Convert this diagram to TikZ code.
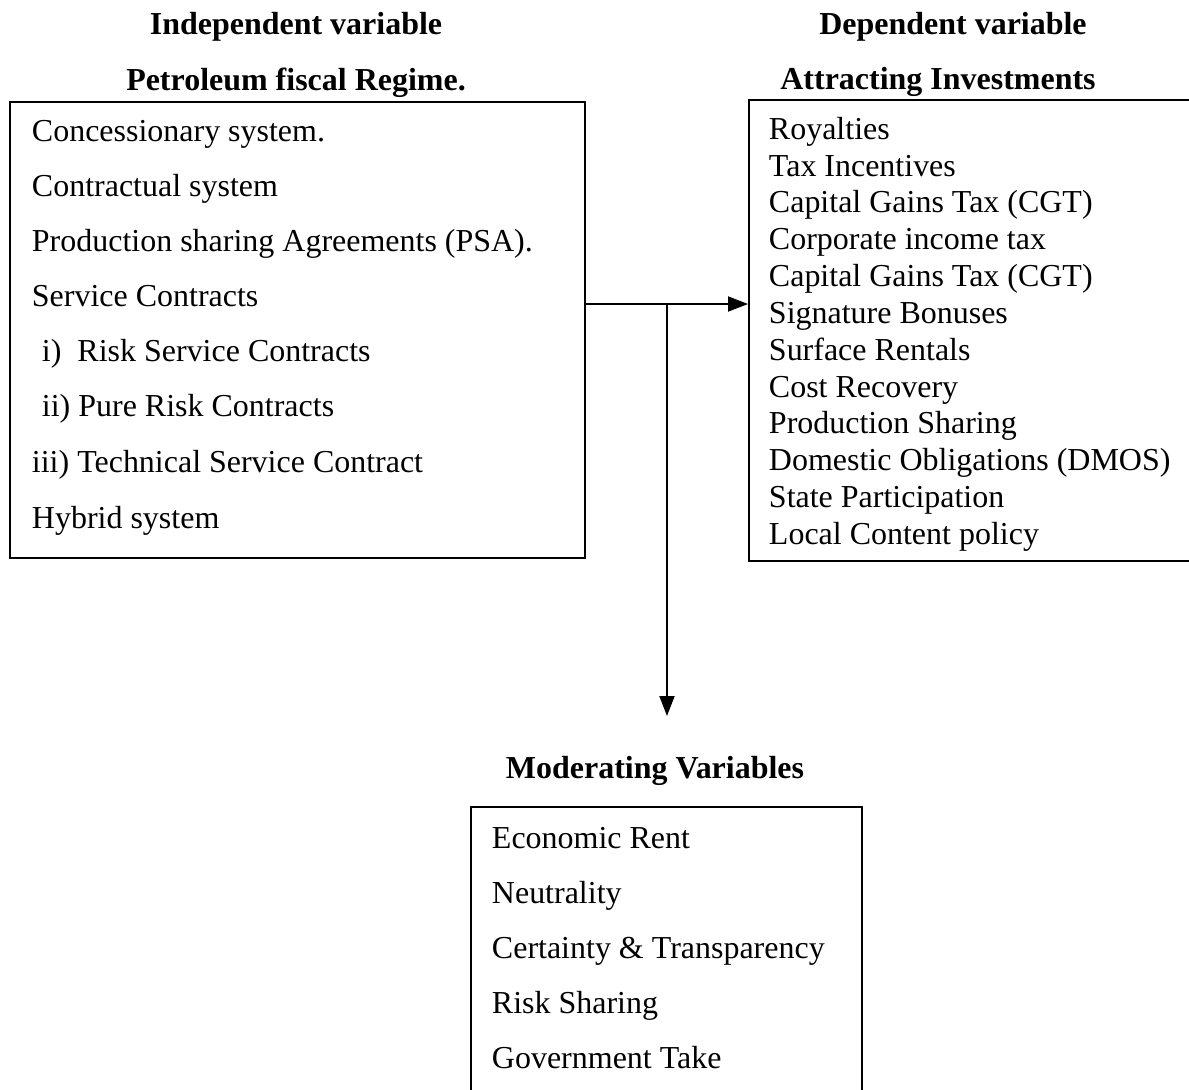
\documentclass[tikz,border=0pt]{standalone}
\usepackage{fontspec}
\setmainfont{Liberation Serif}
\usetikzlibrary{arrows.meta}

\begin{document}
\begin{tikzpicture}[
  x=0.02cm,
  y=-0.02cm,
  >={Triangle[length=4mm,width=3mm]},
  line width=1.1pt,
  every node/.style={font=\fontsize{18.2}{21}\selectfont,inner sep=0pt},
  title node/.style={font=\fontsize{18.2}{21}\selectfont\bfseries,anchor=base},
  item node/.style={anchor=base west},
  frame box/.style={rectangle,draw,anchor=north west},
]
\useasboundingbox (0,0) rectangle (1189,1089);
\clip (0,0) rectangle (1189,1089);
\node[title node] (indep) at (296,34) {Independent variable};
\node[title node] (regtitle) at (296,90) {Petroleum fiscal Regime.};
\node[title node] (dep) at (953,34) {Dependent variable};
\node[title node] (invtitle) at (938,89) {Attracting Investments};
\node[title node] (modtitle) at (655,778) {Moderating Variables};
\node[frame box,minimum width=11.5cm,minimum height=9.12cm] (regime) at (9,101) {};
\node[frame box,minimum width=11.4cm,minimum height=9.22cm] (invest) at (748,99) {};
\node[frame box,minimum width=7.82cm,minimum height=8cm] (moder) at (470,806) {};
\node[item node] (fr1) at (31,141) {Concessionary system.};
\node[item node] (fr2) at (31,196) {Contractual system};
\node[item node] (fr3) at (31,251) {Production sharing Agreements (PSA).};
\node[item node] (fr4) at (31,306) {Service Contracts};
\node[item node] (fr5) at (41,361) {i)\ \ Risk Service Contracts};
\node[item node] (fr6) at (41,416) {ii) Pure Risk Contracts};
\node[item node] (fr7) at (31,472) {iii) Technical Service Contract};
\node[item node] (fr8) at (31,528) {Hybrid system};
\node[item node] (ai1) at (768,139) {Royalties};
\node[item node] (ai2) at (768,176) {Tax Incentives};
\node[item node] (ai3) at (768,212) {Capital Gains Tax (CGT)};
\node[item node] (ai4) at (768,249) {Corporate income tax};
\node[item node] (ai5) at (768,286) {Capital Gains Tax (CGT)};
\node[item node] (ai6) at (768,323) {Signature Bonuses};
\node[item node] (ai7) at (768,360) {Surface Rentals};
\node[item node] (ai8) at (768,397) {Cost Recovery};
\node[item node] (ai9) at (768,433) {Production Sharing};
\node[item node] (ai10) at (768,470) {Domestic Obligations (DMOS)};
\node[item node] (ai11) at (768,507) {State Participation};
\node[item node] (ai12) at (768,544) {Local Content policy};
\node[item node] (mv1) at (491,848) {Economic Rent};
\node[item node] (mv2) at (491,903) {Neutrality};
\node[item node] (mv3) at (491,958) {Certainty \& Transparency};
\node[item node] (mv4) at (491,1013) {Risk Sharing};
\node[item node] (mv5) at (491,1068) {Government Take};
\coordinate (split) at (667,304);
\coordinate (modtip) at (667,716);
\draw[->] (regime.east |- split) -- (invest.west |- split);
\draw[->] (split) -- (modtip);
\end{tikzpicture}
\end{document}
